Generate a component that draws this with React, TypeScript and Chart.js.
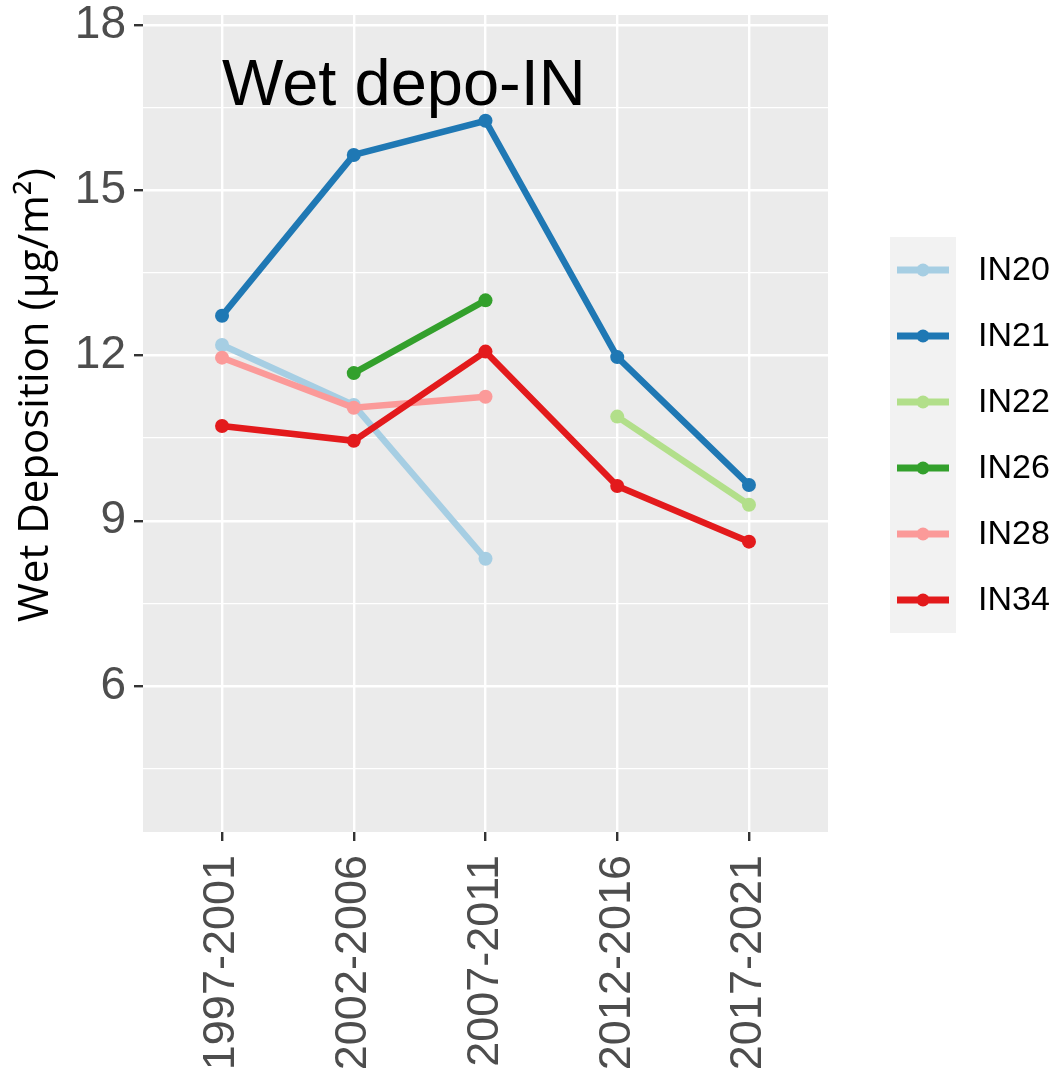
import React, { useEffect, useRef } from "react";
import { Chart, registerables } from "chart.js";

Chart.register(...registerables);

const categories = ["1997-2001", "2002-2006", "2007-2011", "2012-2016", "2017-2021"];
const seriesNames = ["IN20", "IN21", "IN22", "IN26", "IN28", "IN34"];
const seriesColors = ["#A6CEE3", "#1F78B4", "#B2DF8A", "#33A02C", "#FB9A99", "#E31A1C"];
const in20 = [12.19, 11.1, 8.31, null, null];
const in21 = [12.72, 15.64, 16.26, 11.97, 9.65];
const in22 = [null, null, null, 10.89, 9.29];
const in26 = [null, 11.68, 13.0, null, null];
const in28 = [11.96, 11.05, 11.25, null, null];
const in34 = [10.72, 10.45, 12.07, 9.63, 8.62];
const seriesValues = [in20, in21, in22, in26, in28, in34];
const majorTicks = [6, 9, 12, 15, 18];
const minorTicks = [4.5, 7.5, 10.5, 13.5, 16.5];
const yMin = 3.35;
const yMax = 18.18;
const titleText = "Wet depo-IN";
const yTitle = "Wet Deposition (\u00B5g/m\u00B2)";

const FONT = "'Liberation Sans', Arial, sans-serif";
const TITLE_FONT = "'Open Sans', 'Noto Sans', sans-serif";

export default function App() {
  const ref = useRef<HTMLCanvasElement | null>(null);
  useEffect(() => {
    if (!ref.current) return;
    const datasets = seriesNames.map((name, i) => ({
      label: name,
      data: seriesValues[i].map((v, j) => ({ x: j, y: v })),
      borderColor: seriesColors[i],
      backgroundColor: seriesColors[i],
      pointBackgroundColor: seriesColors[i],
      pointBorderColor: seriesColors[i],
      borderWidth: 6.5,
      pointRadius: 7,
      pointBorderWidth: 0,
      tension: 0,
      spanGaps: false,
      order: seriesNames.length - 1 - i,
    }));

    const bgPlugin = {
      id: "panelBg",
      beforeDraw(chart: any) {
        const { ctx, chartArea } = chart;
        ctx.save();
        ctx.fillStyle = "#EBEBEB";
        ctx.fillRect(chartArea.left, chartArea.top, chartArea.right - chartArea.left, chartArea.bottom - chartArea.top);
        ctx.restore();
      },
    };

    const annotPlugin = {
      id: "annot",
      afterDraw(chart: any) {
        const { ctx } = chart;
        const xs = chart.scales.x;
        const ys = chart.scales.y;
        ctx.save();
        ctx.fillStyle = "#000";
        ctx.font = `65px ${FONT}`;
        ctx.textAlign = "left";
        ctx.textBaseline = "alphabetic";
        ctx.fillText(titleText, xs.getPixelForValue(0), ys.getPixelForValue(16.55));
        ctx.restore();

        // legend
        ctx.save();
        const boxX = 890, boxY = 237, keyW = 66, keyH = 66;
        ctx.fillStyle = "#F2F2F2";
        ctx.fillRect(boxX, boxY, keyW, keyH * seriesNames.length);
        seriesNames.forEach((name, i) => {
          const cy = boxY + keyH * i + keyH / 2;
          ctx.strokeStyle = seriesColors[i];
          ctx.lineWidth = 7;
          ctx.beginPath();
          ctx.moveTo(boxX + 7, cy);
          ctx.lineTo(boxX + keyW - 7, cy);
          ctx.stroke();
          ctx.fillStyle = seriesColors[i];
          ctx.beginPath();
          ctx.arc(boxX + keyW / 2, cy, 6.5, 0, Math.PI * 2);
          ctx.fill();
          ctx.fillStyle = "#000";
          ctx.font = `34px ${FONT}`;
          ctx.textAlign = "left";
          ctx.textBaseline = "middle";
          ctx.fillText(name, 978, cy + 1);
        });
        ctx.restore();

        // y title
        ctx.save();
        ctx.translate(36, 395);
        ctx.rotate(-Math.PI / 2);
        ctx.fillStyle = "#000";
        ctx.font = `42px ${TITLE_FONT}`;
        ctx.textAlign = "center";
        ctx.textBaseline = "middle";
        ctx.fillText(yTitle, 0, 0);
        ctx.restore();
      },
    };

    const chart = new Chart(ref.current, {
      type: "line",
      data: { datasets } as any,
      options: {
        animation: false,
        responsive: false,
        devicePixelRatio: 1,
        layout: { padding: { top: 15, right: 228, left: 0, bottom: 0 } },
        plugins: { legend: { display: false }, tooltip: { enabled: false } },
        scales: {
          x: {
            type: "linear",
            min: -0.6,
            max: 4.6,
            afterBuildTicks: (s: any) => {
              s.ticks = categories.map((_, i) => ({ value: i }));
            },
            afterFit: (s: any) => {
              s.height = 245;
              s.paddingLeft = 0;
              s.paddingRight = 0;
            },
            ticks: {
              autoSkip: false,
              minRotation: 90,
              maxRotation: 90,
              padding: 14,
              color: "#4D4D4D",
              font: { family: FONT, size: 45 },
              callback: (v: any) => categories[v as number] ?? "",
            },
            grid: { color: "#FFFFFF", lineWidth: 2.4, tickColor: "#333333", tickLength: 9, tickWidth: 2.4 },
            border: { display: false },
          },
          y: {
            type: "linear",
            min: yMin,
            max: yMax,
            afterBuildTicks: (s: any) => {
              s.ticks = [...minorTicks, ...majorTicks].sort((a, b) => a - b).map((v) => ({ value: v }));
            },
            afterFit: (s: any) => {
              s.width = 143;
              s.paddingTop = 0;
              s.paddingBottom = 0;
            },
            ticks: {
              padding: 8,
              color: "#4D4D4D",
              font: { family: FONT, size: 46 },
              callback: (v: any) => (majorTicks.includes(v as number) ? String(v) : ""),
            },
            grid: {
              color: "#FFFFFF",
              lineWidth: (c: any) => (majorTicks.includes(c.tick?.value) ? 2.4 : 1.2),
              tickColor: (c: any) => (majorTicks.includes(c.tick?.value) ? "#333333" : "rgba(0,0,0,0)"),
              tickWidth: 2.4,
              tickLength: 9,
            },
            border: { display: false },
          },
        },
      },
      plugins: [bgPlugin, annotPlugin],
    } as any);
    return () => chart.destroy();
  }, []);

  return (
    <div style={{ position: "absolute", left: 0, top: 0, width: 1056, height: 1077, background: "#fff" }}>
      <canvas ref={ref} width={1056} height={1077} style={{ display: "block" }} />
    </div>
  );
}
